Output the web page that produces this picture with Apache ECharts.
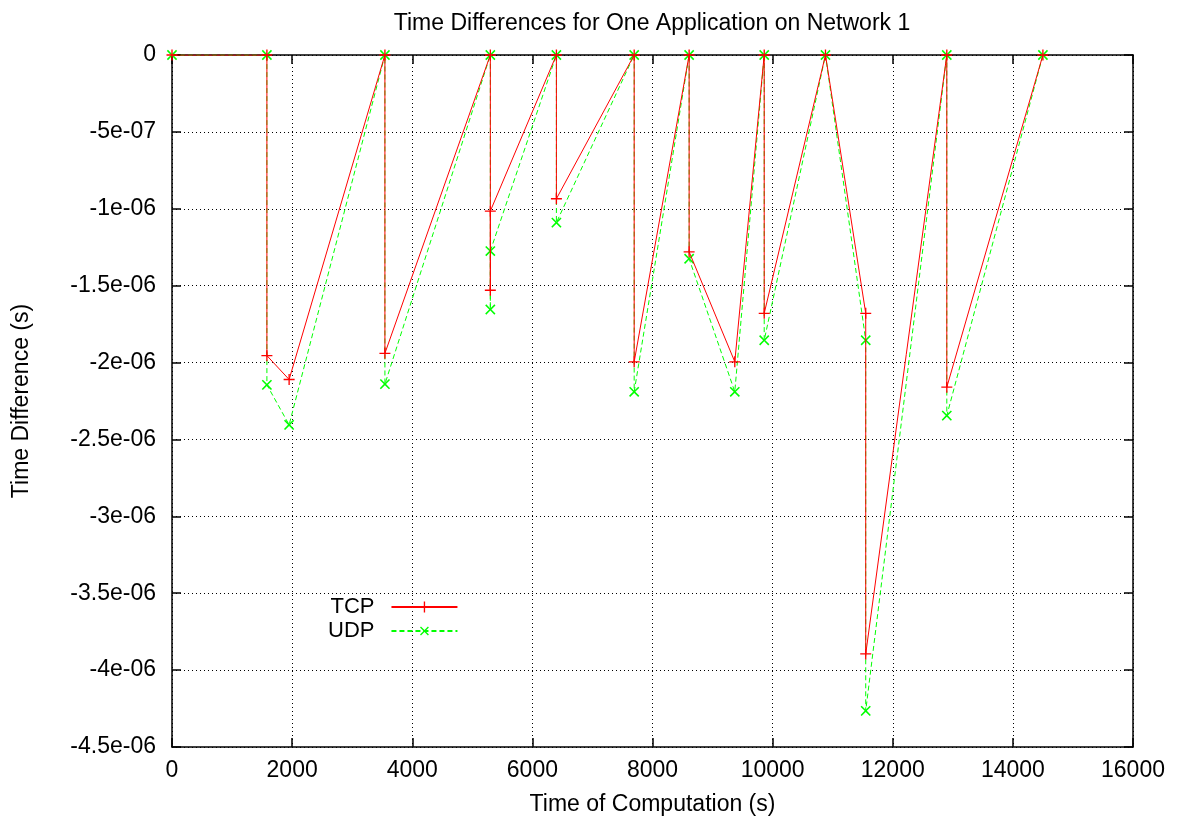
<!DOCTYPE html>
<html>
<head>
<meta charset="utf-8">
<script src="https://cdn.jsdelivr.net/npm/echarts@6/dist/echarts.min.js"></script>
<style>
  html, body { margin: 0; padding: 0; background: #fff; }
  #chart { width: 1179px; height: 821px; }
</style>
</head>
<body>
<div id="chart"></div>
<script>
// time of computation (s)
var xVals = [0, 1580, 1580, 1950, 3545, 3545, 5300, 5300, 5300, 6400, 6400, 7695,
  7695, 8610, 8610, 9370, 9860, 9860, 10880, 11550, 11550, 12900, 12900, 14500];
// time differences, in units of 1e-6 s
var tcpVals = [0, 0, -1.955, -2.11, 0, -1.94, 0, -1.53, -1.015, 0, -0.935, 0,
  -1.995, 0, -1.28, -1.995, 0, -1.68, 0, -1.68, -3.895, 0, -2.16, 0];
var udpVals = [0, 0, -2.145, -2.405, 0, -2.14, 0, -1.655, -1.275, 0, -1.09, 0,
  -2.19, 0, -1.325, -2.19, 0, -1.855, 0, -1.855, -4.265, 0, -2.345, 0];

var FONT = 'Liberation Sans';

function pairs(ys) {
  return xVals.map(function (x, i) { return [x, ys[i] * 1e-6]; });
}

// gnuplot %g style: 0, -5e-07, -1e-06 ...
function fmtG(v) {
  v = Number(v.toPrecision(6));
  if (v === 0) return '0';
  return v.toExponential().replace(/e([+-])(\d)$/, 'e$10$2');
}

var plusPath = 'path://M4.4,0h1.2v4.4h4.4v1.2h-4.4v4.4h-1.2v-4.4h-4.4v-1.2h4.4z';

var gridLine = { show: true, lineStyle: { color: '#000', type: [1, 3], width: 1 } };
var border = { show: true, onZero: false, lineStyle: { color: '#000', width: 1.5 } };
var tick = { show: true, inside: true, length: 9, lineStyle: { color: '#000', width: 1.5 } };
var labelFont = { fontFamily: FONT, fontSize: 23, color: '#000' };

var chart = echarts.init(document.getElementById('chart'));
chart.setOption({
  backgroundColor: '#fff',
  animation: false,
  title: {
    text: 'Time Differences for One Application on Network 1',
    left: 647,
    textAlign: 'center',
    top: 7,
    textStyle: { fontFamily: FONT, fontSize: 23, fontWeight: 'normal', color: '#000' }
  },
  legend: {
    orient: 'vertical',
    left: 323,
    top: 591,
    align: 'right',
    itemWidth: 66,
    itemHeight: 14,
    itemGap: 2,
    textStyle: { fontFamily: FONT, fontSize: 22, color: '#000', padding: [0, 12, 0, 0] },
    data: ['TCP', 'UDP']
  },
  grid: { left: 172, right: 46, top: 55, bottom: 74 },
  xAxis: [{
    type: 'value', min: 0, max: 16000, interval: 2000,
    name: 'Time of Computation (s)', nameLocation: 'middle', nameGap: 46,
    nameTextStyle: labelFont,
    axisLine: border, axisTick: tick, splitLine: gridLine,
    axisLabel: Object.assign({ margin: 12, formatter: function (v) { return String(v); } }, labelFont)
  }, {
    type: 'value', min: 0, max: 16000, interval: 2000, position: 'top',
    axisLine: border, axisTick: tick, splitLine: { show: false },
    axisLabel: { show: false }
  }],
  yAxis: [{
    type: 'value', min: -4.5e-6, max: 0, interval: 5e-7,
    name: 'Time Difference (s)', nameLocation: 'middle', nameGap: 139, nameRotate: 90,
    nameTextStyle: labelFont,
    axisLine: border, axisTick: tick, splitLine: gridLine,
    axisLabel: Object.assign({ margin: 16, formatter: fmtG }, labelFont)
  }, {
    type: 'value', min: -4.5e-6, max: 0, interval: 5e-7, position: 'right',
    axisLine: border, axisTick: tick, splitLine: { show: false },
    axisLabel: { show: false }
  }],
  series: [{
    name: 'TCP',
    type: 'line',
    data: pairs(tcpVals),
    symbol: plusPath,
    symbolSize: 11,
    showAllSymbol: true,
    color: '#ff0000',
    lineStyle: { color: '#ff0000', width: 1 },
    itemStyle: { color: '#ff0000' },
    z: 3
  }, {
    name: 'UDP',
    type: 'line',
    data: pairs(udpVals),
    symbol: plusPath,
    symbolRotate: 45,
    symbolSize: 13,
    showAllSymbol: true,
    color: '#00ff00',
    lineStyle: { color: '#00ff00', width: 1, type: [5, 3] },
    itemStyle: { color: '#00ff00' },
    z: 2
  }]
});
</script>
</body>
</html>
